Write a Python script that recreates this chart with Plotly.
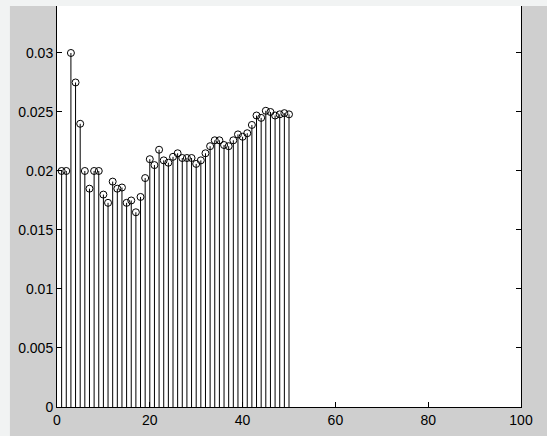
import plotly.graph_objects as go

x_vals = list(range(1, 51))
y_vals = [0.0200, 0.0200, 0.0300, 0.0275, 0.0240, 0.0200, 0.0185, 0.0200, 0.0200, 0.0180,
          0.0173, 0.0191, 0.0185, 0.0186, 0.0173, 0.0175, 0.0165, 0.0178, 0.0194, 0.0210,
          0.0205, 0.0218, 0.0209, 0.0207, 0.0212, 0.0215, 0.0211, 0.0211, 0.0211, 0.0206,
          0.0209, 0.0215, 0.0221, 0.0226, 0.0226, 0.0222, 0.0221, 0.0226, 0.0231, 0.0229,
          0.0232, 0.0239, 0.0247, 0.0245, 0.0251, 0.0250, 0.0247, 0.0248, 0.0249, 0.0248]
x_ticks = [0, 20, 40, 60, 80, 100]
y_ticks = [0, 0.005, 0.01, 0.015, 0.02, 0.025, 0.03]
y_tick_labels = ["0", "0.005", "0.01", "0.015", "0.02", "0.025", "0.03"]

stem_x, stem_y = [], []
for xv, yv in zip(x_vals, y_vals):
    stem_x += [xv, xv, None]
    stem_y += [0, yv, None]

fig = go.Figure()
fig.add_trace(go.Scatter(x=stem_x, y=stem_y, mode="lines",
                         line=dict(color="black", width=1), hoverinfo="skip"))
fig.add_trace(go.Scatter(x=x_vals, y=y_vals, mode="markers",
                         marker=dict(symbol="circle-open", size=7, color="black",
                                     line=dict(width=1, color="black"))))

fig.update_layout(
    width=547, height=436,
    margin=dict(l=57, r=26, t=6, b=29, autoexpand=False),
    paper_bgcolor="#cfcfcf",
    plot_bgcolor="white",
    showlegend=False,
    font=dict(family="Liberation Sans, Arial", size=14, color="black"),
    shapes=[
        dict(type="rect", xref="paper", yref="paper", x0=-0.2, x1=1.2, y0=1.0, y1=1.03,
             fillcolor="#f1f3f3", line=dict(width=0), layer="below"),
        dict(type="rect", xref="paper", yref="paper", x0=-0.2, x1=-0.1015, y0=-0.1, y1=1.03,
             fillcolor="#f1f3f3", line=dict(width=0), layer="below"),
    ],
)
fig.update_xaxes(range=[0, 100], tickvals=x_ticks, ticktext=[str(t) for t in x_ticks],
                 ticks="inside", ticklen=5, tickcolor="black", showgrid=False,
                 zeroline=False, showline=True, linecolor="black", linewidth=1,
                 mirror=False, automargin=False)
fig.update_yaxes(range=[0, 0.03398], tickvals=y_ticks, ticktext=y_tick_labels,
                 ticks="inside", ticklen=5, tickcolor="black", showgrid=False,
                 zeroline=False, showline=True, linecolor="black", linewidth=1,
                 mirror="ticks", automargin=False)

fig.write_html(
    "out.html",
    config={"displayModeBar": False},
    post_script="document.body.style.margin='0';document.body.style.overflow='hidden';"
                "document.body.style.background='#f1f3f3';",
)
